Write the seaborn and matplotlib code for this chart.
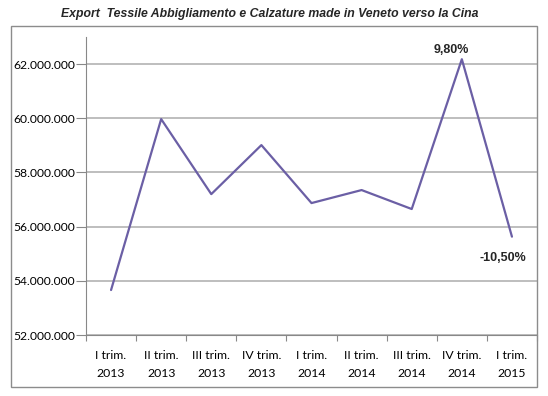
import matplotlib
matplotlib.use("Agg")
import matplotlib.pyplot as plt
import matplotlib.patches as patches
import pandas as pd
import seaborn as sns

trimestri = ["I trim.\n2013", "II trim.\n2013", "III trim.\n2013", "IV trim.\n2013",
             "I trim.\n2014", "II trim.\n2014", "III trim.\n2014", "IV trim.\n2014",
             "I trim.\n2015"]
export_eur = [53660000, 59970000, 57200000, 59010000, 56870000,
              57350000, 56650000, 62180000, 55630000]
etichette = {7: "9,80%", 8: "-10,50%"}

df = pd.DataFrame({"pos": range(len(trimestri)), "export": export_eur})

sns.set_theme(style="white")
plt.rcParams["font.family"] = ["Lato", "DejaVu Sans"]

fig = plt.figure(figsize=(5.48, 3.96), dpi=100)
ax = fig.add_axes([86 / 548, 1 - 335 / 396, (537 - 86) / 548, (335 - 37) / 396])

sns.lineplot(data=df, x="pos", y="export", ax=ax, color="#6B5FA5", linewidth=1.6)

ax.set_xlim(-0.5, len(trimestri) - 0.5)
ax.set_ylim(52000000, 63000000)
ax.set_yticks(range(52000000, 62000001, 2000000))
ax.set_yticklabels([f"{v:,.0f}".replace(",", ".") for v in range(52000000, 62000001, 2000000)],
                   fontsize=8.7, color="black")
ax.yaxis.grid(True, color="#B3B3B3", linewidth=1.2)
ax.tick_params(axis="y", direction="out", length=7, width=0.8, color="#888888", pad=1, left=True)

ax.set_xticks(range(len(trimestri)))
ax.set_xticklabels(trimestri, fontsize=8.8, color="black", linespacing=1.7)
ax.set_xticks([i - 0.5 for i in range(len(trimestri) + 1)], minor=True)
ax.tick_params(axis="x", which="major", length=0, pad=11)
ax.tick_params(axis="x", which="minor", direction="out", length=4, width=0.8,
               color="#888888", bottom=True)
ax.set_xlabel("")
ax.set_ylabel("")

for s in ["top", "right"]:
    ax.spines[s].set_visible(False)
for s in ["left", "bottom"]:
    ax.spines[s].set_color("#888888")
    ax.spines[s].set_linewidth(0.8)

offs = {7: (-11, 9), 8: (-9, -21)}
for i, txt in etichette.items():
    ax.annotate(txt, (i, export_eur[i]), xytext=offs[i], textcoords="offset pixels",
                ha="center", va="center", fontsize=9, fontweight="bold",
                family=["Liberation Sans", "DejaVu Sans"])

fig.patches.append(patches.Rectangle((11 / 548, 9 / 396), (537 - 11) / 548, (387 - 26) / 396,
                                     transform=fig.transFigure, fill=False,
                                     edgecolor="#8C8C8C", linewidth=1))

fig.text(270 / 548, 1 - 14 / 396, "Export  Tessile Abbigliamento e Calzature made in Veneto verso la Cina",
         ha="center", va="center", fontsize=8.8, fontweight="bold", fontstyle="italic",
         family=["Liberation Sans", "DejaVu Sans"])

fig.savefig("out.png", dpi=100)
